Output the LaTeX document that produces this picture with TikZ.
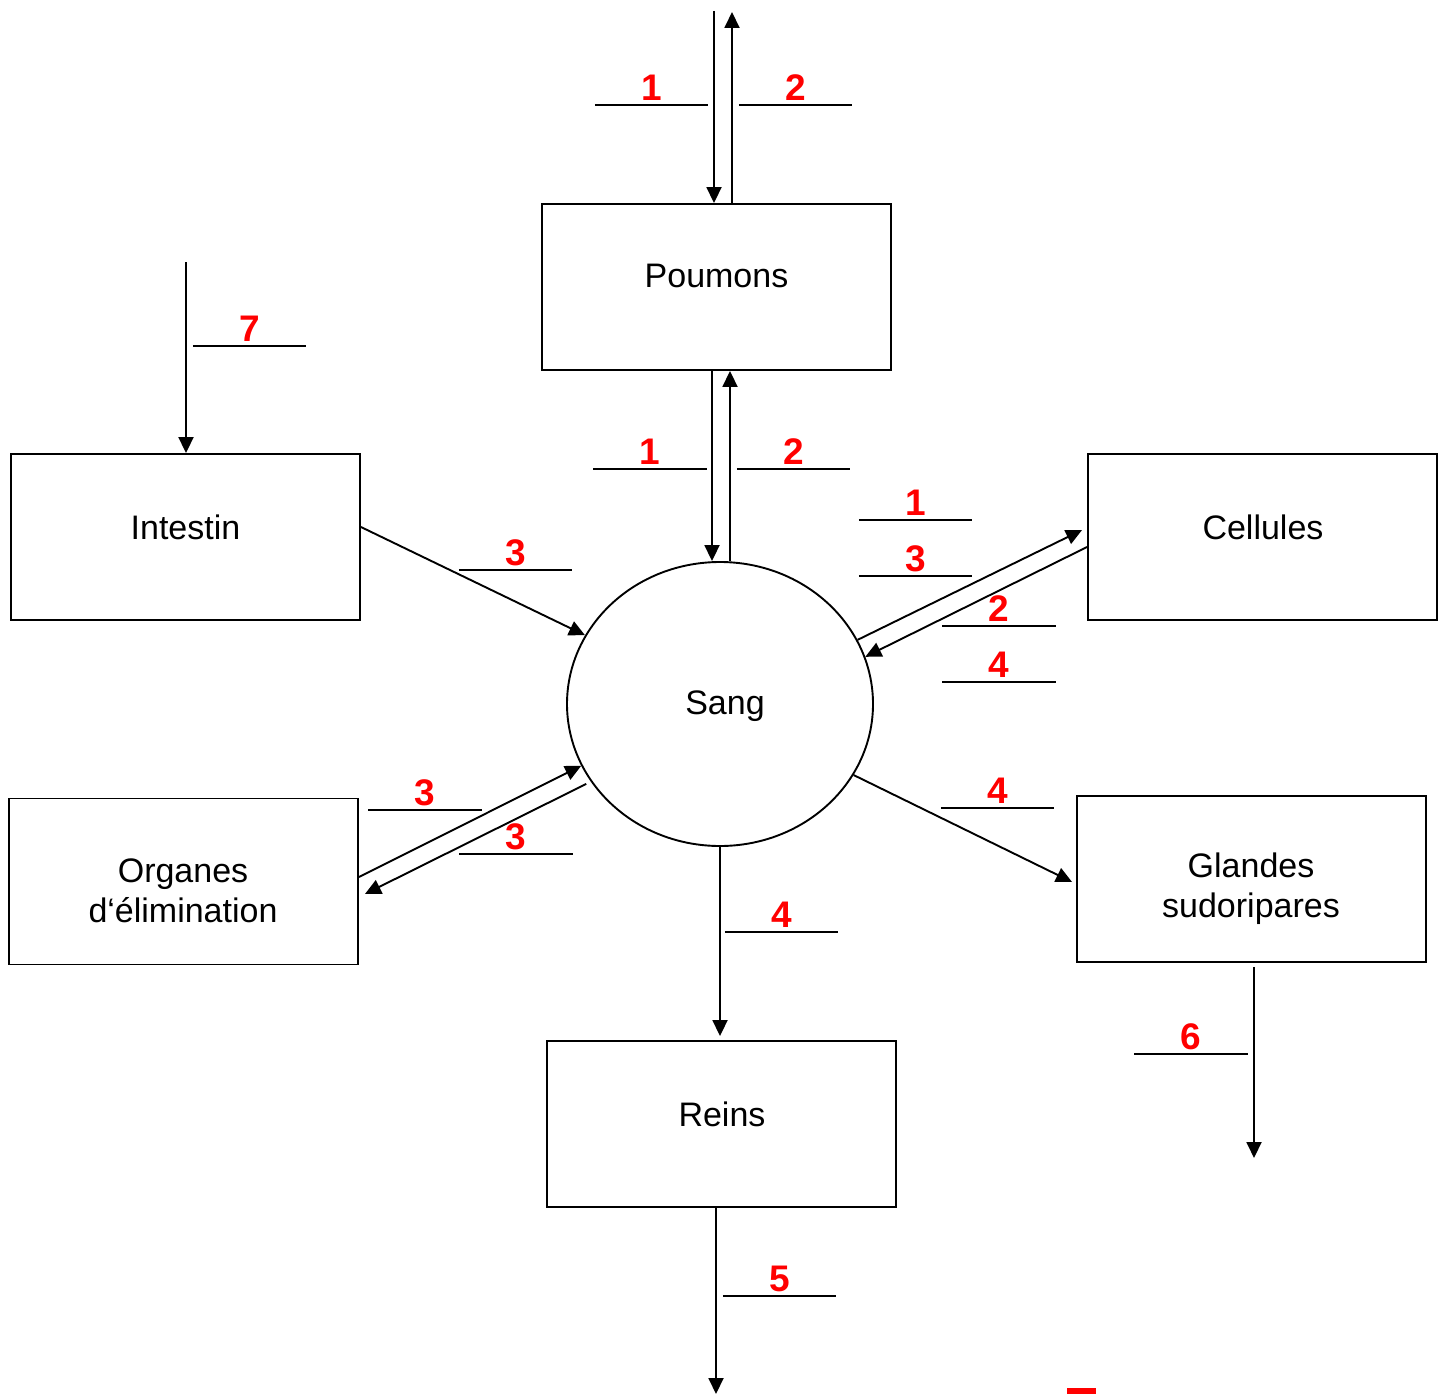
\documentclass[tikz,border=0pt]{standalone}
\usepackage{fontspec}
\setmainfont{Liberation Sans}
\usetikzlibrary{arrows.meta,shapes.geometric}
\begin{document}
\begin{tikzpicture}[x=1pt,y=-1pt,
  box/.style={draw, line width=1.9pt, rectangle, minimum width=349pt, minimum height=166pt, inner sep=0pt},
  blob/.style={draw, line width=1.9pt, ellipse, minimum width=306pt, minimum height=284pt, inner sep=0pt},
  lbl/.style={font=\fontsize{34}{40}\selectfont, align=center, inner sep=0pt},
  flow/.style={line width=1.9pt, -{Triangle[length=16pt,width=15pt]}},
  blank/.style={draw=black, line width=1.9pt, -},
  ans/.style={anchor=south, minimum width=113pt, inner xsep=0pt, inner ysep=4.5pt, text depth=0pt,
    text=red, font=\fontsize{37}{40}\selectfont\bfseries,
    append after command={(\tikzlastnode.south west) edge[blank] (\tikzlastnode.south east)}}
]
\useasboundingbox (0,0) rectangle (1445,1394);

% boxes
\node[box] (poumons) at (716.5,287) {};
\node[lbl] (tpoumons) at (716.5,276) {Poumons};
\node[box] (intestin) at (185.5,537) {};
\node[lbl] (tintestin) at (185.5,527) {Intestin};
\node[box] (cellules) at (1262.5,537) {};
\node[lbl] (tcellules) at (1263,527) {Cellules};
\node[box] (organes) at (183.5,881.5) {};
\node[lbl] (torganes) at (183,891) {Organes\\d‘élimination};
\node[box] (glandes) at (1251.5,879) {};
\node[lbl] (tglandes) at (1251,889) {Glandes\\sudoripares};
\node[box] (reins) at (721.5,1124) {};
\node[lbl] (treins) at (722,1114) {Reins};
\node[blob] (sang) at (720,704) {};
\node[lbl] (tsang) at (725,706) {Sang};

% free ends
\coordinate (inA) at (714,11);
\coordinate (outA) at (732,12);
\coordinate (food) at (186,262);
\coordinate (sweat) at (1254,1158);
\coordinate (urine) at (716,1394);

% connectors
\draw[flow] (inA) -- (inA |- poumons.north);
\draw[flow] (outA |- poumons.north) -- (outA);
\draw[flow] ([xshift=-4.5pt]poumons.south) -- ([xshift=-4.5pt]poumons.south |- sang.north);
\draw[flow] ([xshift=13.5pt]poumons.south |- sang.north) -- ([xshift=13.5pt]poumons.south);
\draw[flow] (food) -- (food |- intestin.north);
\draw[flow] ([yshift=10pt]intestin.east) -- (sang.153.9);
\draw[flow] (sang.25.2) -- ([shift={(-5pt,7pt)}]cellules.west);
\draw[flow] ([yshift=-10pt]cellules.west) -- (sang.18.2);
\draw[flow] ([yshift=4.5pt]organes.east) -- (sang.204.9);
\draw[flow, shorten <=5pt] (sang.211.3) -- ([shift={(6pt,-12.5pt)}]organes.east);
\draw[flow] (sang.332.6) -- ([shift={(-4pt,-3pt)}]glandes.west);
\draw[flow] (sweat |- glandes.south) ++(0,4) -- (sweat);
\draw[flow, shorten >=4pt] (sang.south) -- (sang.south |- reins.north);
\draw[flow] (urine |- reins.south) -- (urine);

% answer blanks
\node[ans] (a1) at (651.5,105) {1};
\node[ans] (a2) at (795.5,105) {2};
\node[ans] (b1) at (650,469) {1};
\node[ans] (b2) at (793.5,469) {2};
\node[ans] (c7) at (249.5,346) {7};
\node[ans] (d3) at (515.5,570) {3};
\node[ans] (e1) at (915.5,520) {1};
\node[ans] (e3) at (915.5,576) {3};
\node[ans] (e2) at (999,626) {2};
\node[ans] (e4) at (999,682) {4};
\node[ans] (f3) at (425,810) {3};
\node[ans] (g3) at (516,854) {3};
\node[ans] (h4) at (997.5,808) {4};
\node[ans] (i6) at (1191,1054) {6};
\node[ans] (j4) at (781.5,932) {4};
\node[ans] (k5) at (779.5,1296) {5};

% cut-off red mark at bottom edge
\fill[red] (1067,1388) rectangle (1096,1394);
\end{tikzpicture}
\end{document}
